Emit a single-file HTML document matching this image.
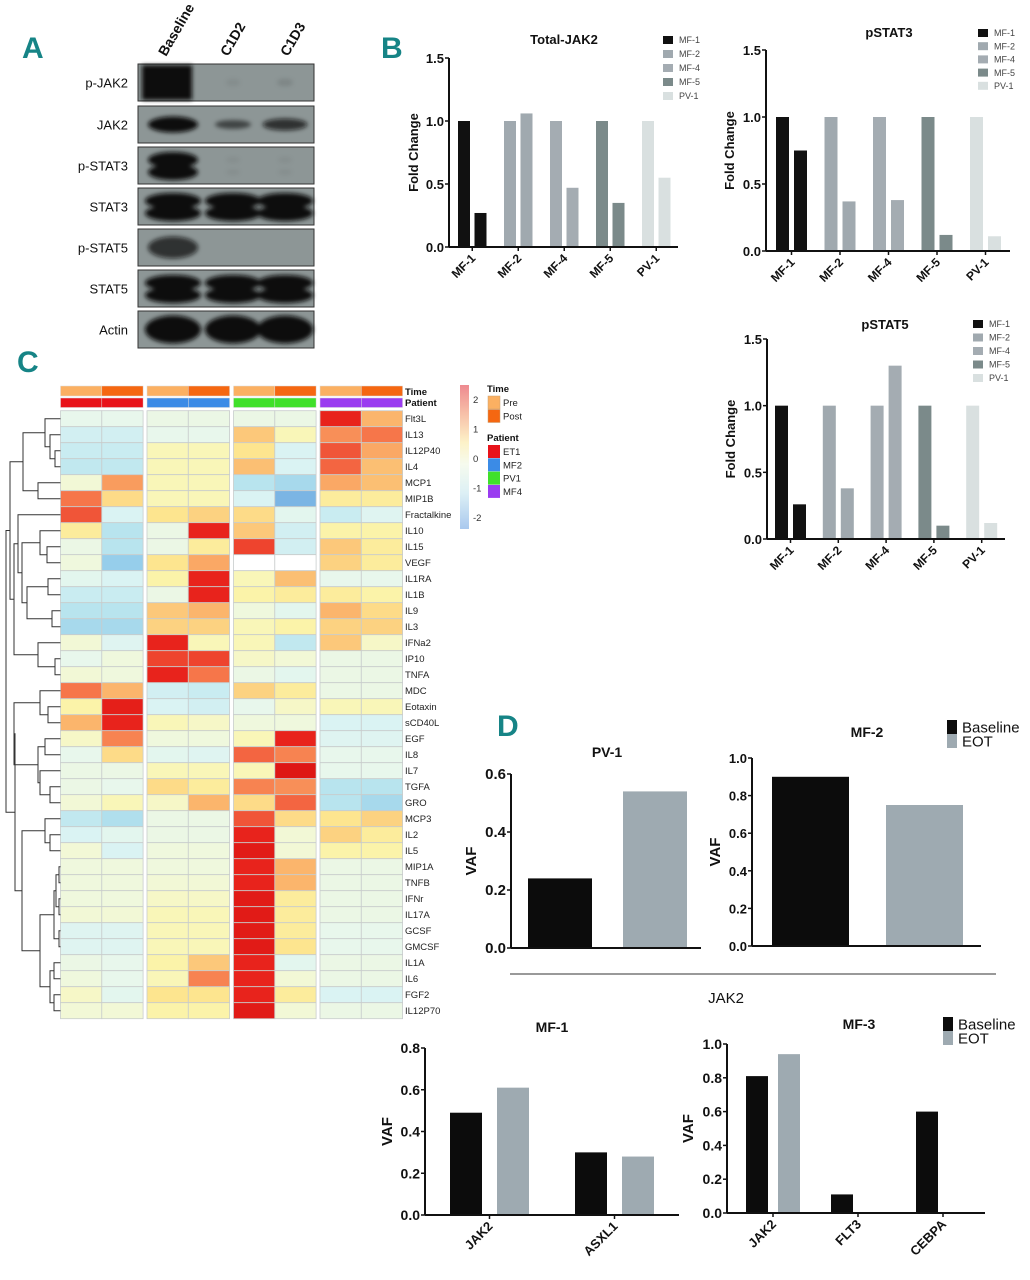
<!DOCTYPE html>
<html><head><meta charset="utf-8"><style>
html,body{margin:0;padding:0;background:#fff;}
svg{display:block;font-family:"Liberation Sans",Arial,sans-serif;}
.pl{font-family:"Liberation Sans",sans-serif;font-weight:bold;fill:#168486;font-size:30px;}
</style></head><body>
<svg id="fig" width="1030" height="1280" viewBox="0 0 1030 1280" xmlns="http://www.w3.org/2000/svg">
<defs>
<filter id="blur" x="-20%" y="-50%" width="140%" height="200%"><feGaussianBlur stdDeviation="2.2"/></filter>
<linearGradient id="cbar" x1="0" y1="0" x2="0" y2="1">
<stop offset="0" stop-color="#ee8a90"/><stop offset="0.2" stop-color="#f7c0a8"/><stop offset="0.4" stop-color="#fdf2c8"/>
<stop offset="0.55" stop-color="#f6fbee"/><stop offset="0.75" stop-color="#ddf0f5"/><stop offset="1" stop-color="#a9c8ee"/></linearGradient>
</defs>
<g id="panelA"></g>
<g id="panelB"></g>
<g id="panelC"></g>
<g id="panelD"></g>
</svg>
<script>
// ---------- Panel B data ----------
const bCategories = ["MF-1","MF-2","MF-4","MF-5","PV-1"];
const bColors = ["#111111","#a0a9af","#a4acb2","#7b8a8a","#d9e0e0"];
const jak2Values = [[1,0.27],[1,1.06],[1,0.47],[1,0.35],[1,0.55]];
const pstat3Values = [[1,0.75],[1,0.37],[1,0.38],[1,0.12],[1,0.11]];
const pstat5Values = [[1,0.26],[1,0.38],[1,1.3],[1,0.1],[1,0.12]];
const bTicks = [0,0.5,1.0,1.5];
const bTickLabels = ["0.0","0.5","1.0","1.5"];
// ---------- Panel D data ----------
const dSeries = ["Baseline","EOT"];
const dColors = ["#0c0c0c","#9eaab1"];
const pv1Cats = [""]; const pv1Values = [[0.24,0.54]];
const mf2Cats = [""]; const mf2Values = [[0.9,0.75]];
const mf1Cats = ["JAK2","ASXL1"]; const mf1Values = [[0.49,0.61],[0.30,0.28]];
const mf3Cats = ["JAK2","FLT3","CEBPA"]; const mf3Values = [[0.81,0.94],[0.11,0],[0.60,0]];
const vaf06Ticks = [0,0.2,0.4,0.6]; const vaf06Labels = ["0.0","0.2","0.4","0.6"];
const vaf08Ticks = [0,0.2,0.4,0.6,0.8]; const vaf08Labels = ["0.0","0.2","0.4","0.6","0.8"];
const vaf10Ticks = [0,0.2,0.4,0.6,0.8,1.0]; const vaf10Labels = ["0.0","0.2","0.4","0.6","0.8","1.0"];
// ---------- Panel C data ----------
const cytokines = ["Flt3L","IL13","IL12P40","IL4","MCP1","MIP1B","Fractalkine","IL10","IL15","VEGF","IL1RA","IL1B","IL9","IL3","IFNa2","IP10","TNFA","MDC","Eotaxin","sCD40L","EGF","IL8","IL7","TGFA","GRO","MCP3","IL2","IL5","MIP1A","TNFB","IFNr","IL17A","GCSF","GMCSF","IL1A","IL6","FGF2","IL12P70"];
const patients = ["ET1","MF2","PV1","MF4"];
const times = ["Pre","Post"];
const zscores = [
[-0.3,-0.3,-0.2,-0.2,-0.2,-0.2,2,1],
[-0.7,-0.7,-0.3,-0.3,0.8,0.2,1.3,1.5],
[-0.8,-0.8,0.2,0.2,0.5,-0.6,1.7,1.1],
[-0.9,-0.9,0.2,0.2,0.9,-0.6,1.6,0.9],
[0,1.2,0.2,0.2,-1,-1.2,1.1,0.9],
[1.5,0.6,0.2,0.2,-0.6,-1.8,0.4,0.4],
[1.7,-0.6,0.5,0.7,0.6,-0.4,-0.8,-0.5],
[0.4,-1,-0.2,2,0.8,-0.7,0.3,0.3],
[-0.2,-1,-0.2,0.4,1.8,-0.7,0.8,0.4],
[-0.1,-1.4,0.5,1.1,null,null,0.7,0.4],
[-0.4,-0.6,0.3,2,0.2,0.9,-0.3,-0.3],
[-0.8,-0.8,-0.2,2,0.3,0.4,0.4,0.3],
[-1,-1,0.8,1,-0.1,-0.4,1,0.6],
[-1.2,-1.2,0.7,0.7,0.2,0.3,0.7,0.7],
[0,-0.5,2,0.2,0.2,-0.9,0.8,0.1],
[-0.3,-0.1,1.8,1.8,0.1,0,-0.2,-0.2],
[0,-0.1,2,1.5,-0.2,-0.4,-0.2,-0.2],
[1.5,1,-0.7,-0.8,0.7,0.4,-0.2,-0.2],
[0.3,2.1,-0.6,-0.7,-0.3,0.1,0.2,0.2],
[1,2,0.2,0.1,-0.1,-0.1,-0.6,-0.6],
[0.1,1.4,-0.1,-0.1,0.2,2,-0.5,-0.5],
[-0.3,0.6,-0.4,-0.5,1.6,1.4,-0.3,-0.3],
[-0.2,-0.2,0.2,0.2,0.2,2.3,-0.3,-0.3],
[-0.2,-0.3,0.6,0.4,1.4,1.3,-1,-1],
[0,0.2,0.1,1,0.6,1.6,-1,-1.2],
[-0.9,-1.1,-0.2,-0.2,1.7,0.6,0.5,0.7],
[-0.6,-0.4,-0.2,-0.2,2,0,0.7,0.4],
[0,-0.6,-0.1,-0.1,2.2,0,0.3,0.3],
[-0.1,-0.1,-0.1,-0.1,2,1,-0.2,-0.2],
[-0.1,-0.1,0,0,2,1,-0.2,-0.2],
[-0.1,-0.1,0.1,0.1,2.2,0.4,-0.2,-0.2],
[0,0,0.2,0.2,2.2,0.4,-0.2,-0.2],
[-0.5,-0.5,0.2,0.2,2.2,0.4,-0.3,-0.3],
[-0.5,-0.5,0.2,0.2,2.2,0.5,-0.3,-0.3],
[-0.2,-0.3,0.3,0.8,2,-0.4,-0.2,-0.2],
[-0.1,-0.3,0.2,1.4,2,0,-0.2,-0.2],
[0.1,-0.4,0.5,0.5,2,0.4,-0.6,-0.6],
[0,0,0.3,0.3,2.2,0,-0.2,-0.2]];
const scaleTicks = [2,1,0,-1,-2];

const NS="http://www.w3.org/2000/svg";
function mk(parent,tag,attrs,text){const e=document.createElementNS(NS,tag);for(const k in attrs)e.setAttribute(k,attrs[k]);if(text!==undefined)e.textContent=text;parent.appendChild(e);return e;}

// ---------- Panel A ----------
(function(){
const g=document.getElementById('panelA');
const t=mk(g,'text',{x:22,y:58,class:'pl'},'A');


const lanes=["Baseline","C1D2","C1D3"]; const laneX=[166,228,288];
lanes.forEach((l,i)=>{const e=mk(g,'text',{x:laneX[i],y:57,transform:`rotate(-60 ${laneX[i]} 57)`,'font-size':14,'font-weight':'bold',fill:'#111'},l);

});
const rows=[["p-JAK2",64,[1,0.06,0.1],'single'],["JAK2",106,[1,0.55,0.75],'single'],["p-STAT3",147,[1,0.05,0.05],'double'],["STAT3",188,[1,1,1],'double'],["p-STAT5",229,[0.75,0,0.03],'single'],["STAT5",270,[1,1,1],'double'],["Actin",311,[1,1,1],'single']];
const cx=[173,233,285];
rows.forEach(r=>{
 const y=r[1],h=37;
 const box=mk(g,'g',{});
 
 
 mk(box,'rect',{x:138,y:y,width:176,height:h,fill:'#8d9696',stroke:'#333','stroke-width':1});
 const bands=mk(box,'g',{filter:'url(#blur)'});
 r[2].forEach((v,i)=>{ if(v<0.04)return;
  const w=(r[0]==='STAT3'||r[0]==='STAT5'||r[0]==='Actin')?52:(i===0?46:44*v+8);
  if(r[0]==='p-JAK2'&&i===0){mk(bands,'rect',{x:142,y:y+1,width:50,height:h-2,fill:'#0a0a0a'});return;}
  if(r[3]==='double'){mk(bands,'ellipse',{cx:cx[i],cy:y+h*0.35,rx:w/2+2,ry:8*Math.max(v,0.4),fill:'#0a0a0a','fill-opacity':v});mk(bands,'ellipse',{cx:cx[i],cy:y+h*0.68,rx:w/2+2,ry:8*Math.max(v,0.4),fill:'#0a0a0a','fill-opacity':v});}
  else {const ry=(r[0]==='Actin')?14:(r[0]==='p-STAT5'?11:8*Math.max(v,0.5));mk(bands,'ellipse',{cx:cx[i],cy:y+h/2,rx:w/2+2,ry:ry,fill:'#0a0a0a','fill-opacity':v});}
 });
 const lt=mk(g,'text',{x:128,y:y+h/2+5,'text-anchor':'end','font-size':13,fill:'#111'},r[0]);
 
 
});
})();

// ---------- Generic grouped bar chart ----------
function barChart(parent,name,c){
 const g=mk(parent,'g',{});
 
 
 const y=v=>c.y0-(v/c.max)*(c.y0-c.yTop);
 c.values.forEach((grp,gi)=>{
  grp.forEach((v,si)=>{
   if(v<=0)return;
   const col=c.colorBy==='group'?c.colors[gi]:c.colors[si];
   const x=c.first+gi*c.step+si*c.offset;
   const b=mk(g,'rect',{x:x,y:y(v),width:c.bw,height:c.y0-y(v),fill:col});
   
   
  });
 });
 mk(g,'line',{x1:c.x0,y1:c.yTop,x2:c.x0,y2:c.y0,stroke:'#111','stroke-width':2});
 mk(g,'line',{x1:c.x0,y1:c.y0,x2:c.x1,y2:c.y0,stroke:'#111','stroke-width':2});
 c.ticks.forEach((tv,i)=>{
  mk(g,'line',{x1:c.x0-4,y1:y(tv),x2:c.x0,y2:y(tv),stroke:'#111','stroke-width':1.5});
  const t=mk(g,'text',{x:c.x0-5,y:y(tv)+5,'text-anchor':'end','font-size':c.tfs,'font-weight':'bold',fill:'#111'},c.tickLabels[i]);
  
  
 });
 c.cats.forEach((cat,gi)=>{
  if(!cat)return;
  const cx=c.first+gi*c.step+((c.ns-1)*c.offset+c.bw)/2;
  mk(g,'line',{x1:cx,y1:c.y0,x2:cx,y2:c.y0+4,stroke:'#111','stroke-width':1.5});
  const lx=cx+4,ly=c.y0+12;
  const t=mk(g,'text',{x:lx,y:ly,'text-anchor':'end','font-size':c.xfs,'font-weight':'bold',fill:'#111',transform:`rotate(-45 ${lx} ${ly})`},cat);
  
  
 });
 const yt=mk(g,'text',{x:c.ytx,y:(c.yTop+c.y0)/2,'text-anchor':'middle','font-size':c.yfs,'font-weight':'bold',fill:'#111',transform:`rotate(-90 ${c.ytx} ${(c.yTop+c.y0)/2})`},c.ytitle);
 
 
 const tt=mk(g,'text',{x:c.tx,y:c.ty,'text-anchor':'middle','font-size':c.tsz,'font-weight':'bold',fill:'#111'},c.title);
 
 
 if(c.legend){
  c.legend.labels.forEach((lab,i)=>{
   const ly=c.legend.y+i*c.legend.dy;
   const s=mk(g,'rect',{x:c.legend.x,y:ly-c.legend.sh/2,width:c.legend.sw,height:c.legend.sh,fill:c.legend.colors[i]});
   
   
   const lt=mk(g,'text',{x:c.legend.x+c.legend.sw+c.legend.gap,y:ly+c.legend.fs*0.36,'font-size':c.legend.fs,fill:c.legend.tc||'#444'},lab);
   
   
  });
 }
 return g;
}

// ---------- Panel B ----------
(function(){
const g=document.getElementById('panelB');
const t=mk(g,'text',{x:381,y:58,class:'pl'},'B');


const leg=(x,y,dy)=>({labels:bCategories,colors:bColors,x:x,y:y,dy:dy,sw:10,sh:8,gap:6,fs:9});
barChart(g,'total-jak2-chart',{values:jak2Values,cats:bCategories,colors:bColors,colorBy:'group',max:1.5,ticks:bTicks,tickLabels:bTickLabels,
 x0:449,x1:678,yTop:58,y0:247,first:458,step:46,offset:16.5,bw:12,ns:2,tfs:13,xfs:12,yfs:13,ytx:418,ytitle:'Fold  Change',title:'Total-JAK2',tx:564,ty:44,tsz:13,legend:leg(663,40,14)});
barChart(g,'pstat3-chart',{values:pstat3Values,cats:bCategories,colors:bColors,colorBy:'group',max:1.5,ticks:bTicks,tickLabels:bTickLabels,
 x0:766,x1:1010,yTop:50,y0:251,first:776,step:48.5,offset:18,bw:13,ns:2,tfs:13,xfs:12,yfs:13,ytx:734,ytitle:'Fold  Change',title:'pSTAT3',tx:889,ty:37,tsz:13,legend:leg(978,33,13.2)});
barChart(g,'pstat5-chart',{values:pstat5Values,cats:bCategories,colors:bColors,colorBy:'group',max:1.5,ticks:bTicks,tickLabels:bTickLabels,
 x0:767,x1:1005,yTop:339,y0:539,first:775,step:47.8,offset:18,bw:13,ns:2,tfs:13,xfs:12,yfs:13,ytx:735,ytitle:'Fold Change',title:'pSTAT5',tx:885,ty:329,tsz:13,legend:leg(973,324,13.5)});
})();

// ---------- Panel C heatmap ----------
(function(){
const g=document.getElementById('panelC');
const t=mk(g,'text',{x:17,y:372,class:'pl'},'C');


const stops=[[-2,[110,167,224]],[-1.5,[142,201,234]],[-1,[184,228,238]],[-0.6,[218,243,243]],[-0.3,[232,247,236]],[0,[242,248,214]],[0.25,[251,246,176]],[0.5,[253,229,143]],[1,[251,181,108]],[1.5,[246,118,74]],[2,[232,35,28]],[2.5,[215,15,15]]];
function col(v){ if(v===null)return '#ffffff'; v=Math.max(-2,Math.min(2.5,v));
 for(let i=0;i<stops.length-1;i++){const a=stops[i],b=stops[i+1]; if(v>=a[0]&&v<=b[0]){const f=(v-a[0])/(b[0]-a[0]);return 'rgb('+a[1].map((c,k)=>Math.round(c+(b[1][k]-c)*f)).join(',')+')';}}
 return '#fff';}
const groupX=[60.5,147,233.5,320]; const cw=41.3; const rowY0=410.7, rh=16;
const timeCols=['#fbb062','#f56711']; const patCols=['#e8131a','#3b8be6','#40e02a','#9a3cf0'];
patients.forEach((p,pi)=>{
 times.forEach((tm,ti)=>{
  const x=groupX[pi]+ti*cw;
  const a=mk(g,'rect',{x:x,y:386,width:cw,height:10,fill:timeCols[ti],stroke:'#ddd','stroke-width':0.5});
  
  
  const b=mk(g,'rect',{x:x,y:398,width:cw,height:9.5,fill:patCols[pi],stroke:'#ddd','stroke-width':0.5});
  
  
  cytokines.forEach((cy,ri)=>{
   const v=zscores[ri][pi*2+ti];
   const r=mk(g,'rect',{x:x,y:rowY0+ri*rh,width:cw,height:rh,fill:col(v),stroke:'#c8cccc','stroke-width':0.8});
   
   
  });
 });
});
const at=mk(g,'text',{x:405,y:395,'font-size':9.5,'font-weight':'bold',fill:'#111'},'Time');


const ap=mk(g,'text',{x:405,y:406,'font-size':9.5,'font-weight':'bold',fill:'#111'},'Patient');


cytokines.forEach((cy,ri)=>{
 const l=mk(g,'text',{x:405,y:rowY0+ri*rh+11.5,'font-size':9.5,fill:'#222'},cy);
 
 
});
const tree=[[[[0,[1,[2,3,55],50],45],[4,5,38],23],[[6,[[7,[8,9,47],40],[[10,11,48],[12,13,52],27],22],18],[14,[15,16,55],38],14],10],
 [[[17,[18,19,48],40],[[20,21,45],[22,[23,24,50],40],38],14],
  [[25,[26,27,50],45],[[[[28,29,59],[30,31,59],56],[32,33,59],54],[[34,35,54],[36,37,54],50],40],22],15],6];
const dg=mk(g,'g',{stroke:'#333','stroke-width':1,fill:'none'});


function draw(n){ if(typeof n==='number')return {y:rowY0+n*rh+rh/2,x:60.5};
 const a=draw(n[0]),b=draw(n[1]),x=n[2];
 mk(dg,'path',{d:`M${a.x},${a.y}H${x}V${b.y}H${b.x}`});
 return {y:(a.y+b.y)/2,x:x};}
draw(tree);
const cb=mk(g,'rect',{x:460,y:385,width:9,height:144,fill:'url(#cbar)'});


scaleTicks.forEach(v=>{
 const yy=458-v*29.5;
 const e=mk(g,'text',{x:473,y:yy+4,'font-size':9.5,fill:'#333'},String(v));
 
 
});
const lt=mk(g,'text',{x:487,y:392,'font-size':9.5,'font-weight':'bold',fill:'#111'},'Time');


times.forEach((tm,i)=>{
 const s=mk(g,'rect',{x:488,y:396+i*13.5,width:12,height:13,fill:timeCols[i],stroke:'#c9a070','stroke-width':0.5});
 
 
 const e=mk(g,'text',{x:503,y:406+i*13.5,'font-size':9.5,fill:'#222'},tm);
 
 
});
const lp=mk(g,'text',{x:487,y:441,'font-size':9.5,'font-weight':'bold',fill:'#111'},'Patient');


patients.forEach((p,i)=>{
 const s=mk(g,'rect',{x:488,y:445+i*13.3,width:12,height:13,fill:patCols[i]});
 
 
 const e=mk(g,'text',{x:503,y:455+i*13.3,'font-size':9.5,fill:'#222'},p);
 
 
});
})();

// ---------- Panel D ----------
(function(){
const g=document.getElementById('panelD');
const t=mk(g,'text',{x:497,y:736,class:'pl'},'D');


const leg=(x,y)=>({labels:dSeries,colors:dColors,x:x,y:y,dy:14,sw:10,sh:14,gap:5,fs:15,tc:'#111'});
barChart(g,'pv1-vaf-chart',{values:pv1Values,cats:pv1Cats,colors:dColors,colorBy:'series',max:0.6,ticks:vaf06Ticks,tickLabels:vaf06Labels,
 x0:511,x1:701,yTop:774,y0:948,first:528,step:0,offset:95,bw:64,ns:2,tfs:15,xfs:12,yfs:15,ytx:476,ytitle:'VAF',title:'PV-1',tx:607,ty:757,tsz:14});
barChart(g,'mf2-vaf-chart',{values:mf2Values,cats:mf2Cats,colors:dColors,colorBy:'series',max:1.0,ticks:vaf10Ticks,tickLabels:vaf10Labels,
 x0:752,x1:981,yTop:758,y0:946,first:772,step:0,offset:114,bw:77,ns:2,tfs:13,xfs:12,yfs:15,ytx:720,ytitle:'VAF',title:'MF-2',tx:867,ty:737,tsz:14,legend:leg(947,727)});
const ln=mk(g,'line',{x1:510,y1:974,x2:996,y2:974,stroke:'#333','stroke-width':1});


const jt=mk(g,'text',{x:726,y:1003,'text-anchor':'middle','font-size':15,fill:'#111'},'JAK2');


barChart(g,'mf1-vaf-chart',{values:mf1Values,cats:mf1Cats,colors:dColors,colorBy:'series',max:0.8,ticks:vaf08Ticks,tickLabels:vaf08Labels,
 x0:425,x1:679,yTop:1048,y0:1215,first:450,step:125,offset:47,bw:32,ns:2,tfs:14,xfs:13,yfs:15,ytx:392,ytitle:'VAF',title:'MF-1',tx:552,ty:1032,tsz:14});
barChart(g,'mf3-vaf-chart',{values:mf3Values,cats:mf3Cats,colors:dColors,colorBy:'series',max:1.0,ticks:vaf10Ticks,tickLabels:vaf10Labels,
 x0:727,x1:985,yTop:1044,y0:1213,first:746,step:85,offset:32,bw:22,ns:2,tfs:14,xfs:13,yfs:15,ytx:693,ytitle:'VAF',title:'MF-3',tx:859,ty:1029,tsz:14,legend:leg(943,1024)});
})();
</script>
</body></html>
